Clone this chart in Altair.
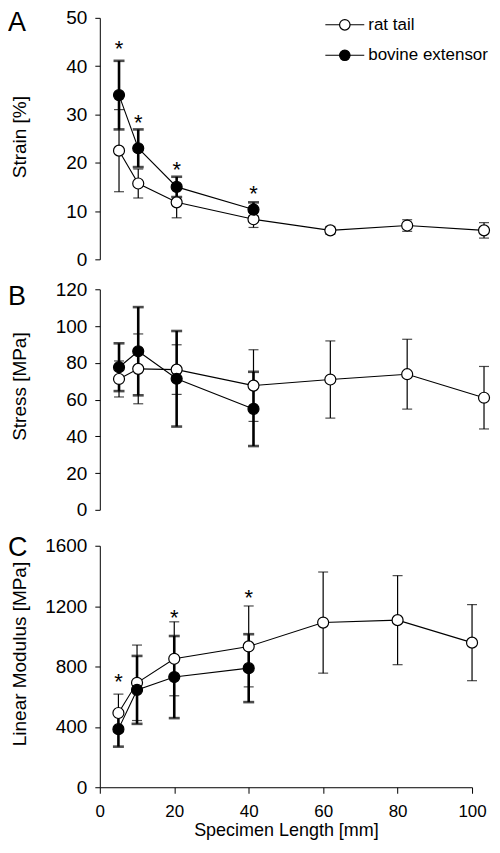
import altair as alt
import pandas as pd

FONT = "Liberation Sans"

# ---------------- data ----------------
rat_len = [5, 10, 20, 40, 60, 80, 100]
bov_len = [5, 10, 20, 40]
groups = ["rat tail", "bovine extensor"]

# A: strain [%]
rat_strain = [22.5, 15.7, 11.8, 8.3, 6.0, 7.0, 6.0]
rat_strain_sd = [8.5, 3.0, 3.2, 1.7, 0.8, 1.2, 1.6]
bov_strain = [34.0, 23.0, 15.0, 10.3]
bov_strain_sd = [7.1, 3.9, 2.1, 1.5]
strain_star_x = [5, 10, 20, 40]
strain_star_y = [44.7, 29.5, 19.8, 14.7]

# B: stress [MPa]
rat_stress = [71.2, 76.7, 76.3, 67.6, 70.9, 73.8, 61.0]
rat_stress_sd = [9.8, 19.0, 13.5, 19.5, 21.0, 19.0, 17.0]
bov_stress = [77.6, 86.3, 71.3, 54.9]
bov_stress_sd = [13.0, 24.0, 26.0, 20.2]

# C: linear modulus [MPa]
rat_mod = [492, 692, 851, 933, 1091, 1107, 958]
rat_mod_sd = [125, 250, 245, 268, 335, 295, 252]
bov_mod = [385, 645, 730, 789]
bov_mod_sd = [116, 225, 272, 225]
mod_star_x = [5, 20, 40]
mod_star_y = [740, 1163, 1296]

group_fill = {"rat tail": "white", "bovine extensor": "black"}


def make_table(rm, rs, bm, bs):
    recs = []
    for x, m, s in zip(rat_len, rm, rs):
        recs.append({"length": x, "group": groups[0], "mean": m, "lo": m - s, "hi": m + s})
    for x, m, s in zip(bov_len, bm, bs):
        recs.append({"length": x, "group": groups[1], "mean": m, "lo": m - s, "hi": m + s})
    return pd.DataFrame(recs)


def legend_layers(x0, row_y):
    """Hand-drawn legend (line - circle - label) placed inside panel A."""
    out = []
    for g, yy in zip(groups, row_y):
        d = alt.Chart(pd.DataFrame({"label": [g]}))
        out.append(d.mark_rule(color="black", strokeWidth=1.1)
                   .encode(x=alt.value(x0), x2=alt.value(x0 + 39), y=alt.value(yy)))
        out.append(d.mark_point(shape="circle", filled=True, size=110, stroke="black",
                                strokeWidth=1.2, opacity=1, fill=group_fill[g])
                   .encode(x=alt.value(x0 + 19.5), y=alt.value(yy)))
        out.append(d.mark_text(align="left", baseline="middle", fontSize=17, font=FONT,
                               color="black")
                   .encode(x=alt.value(x0 + 43), y=alt.value(yy), text="label:N"))
    return out


def panel(df, star_x, star_y, letter, lx, ly, ymax, yticks, ytitle, title_y,
          width, height, show_x, legend):
    xscale = alt.Scale(domain=[0, 100], nice=False, zero=False)
    if show_x:
        xaxis = alt.Axis(values=[0, 20, 40, 60, 80, 100], title="Specimen Length [mm]",
                         labelFontSize=17, tickSize=6, labelPadding=10,
                         titleFontSize=18, titlePadding=2, labelFlush=False,
                         format="d")
    else:
        xaxis = None
    yscale = alt.Scale(domain=[0, ymax], nice=False, zero=True)
    yaxis = alt.Axis(values=yticks, title=ytitle, titleX=-74, titleY=title_y,
                     titleAngle=270, titleBaseline="alphabetic", titleAlign="center",
                     labelFontSize=19, titleFontSize=19, tickSize=5, labelPadding=8,
                     format="d")
    X = alt.X("length:Q", scale=xscale, axis=xaxis)

    def Y(field):
        return alt.Y(field, type="quantitative", scale=yscale, axis=yaxis)

    base = alt.Chart(df)
    layers = []
    for g, sw, cap in [(groups[0], 1.2, 10), (groups[1], 2.6, 11)]:
        sub = base.transform_filter(alt.datum.group == g)
        layers.append(sub.mark_rule(color="black", strokeWidth=sw)
                      .encode(x=X, y=Y("lo"), y2=alt.Y2("hi")))
        layers.append(sub.transform_fold(["lo", "hi"], as_=["end", "val"])
                      .mark_tick(orient="horizontal", color="black", size=cap, thickness=sw)
                      .encode(x=X, y=Y("val")))
    layers.append(base.mark_line(color="black", strokeWidth=1.1)
                  .encode(x=X, y=Y("mean"), detail="group:N"))
    fill = alt.Fill("group:N", scale=alt.Scale(domain=groups, range=["white", "black"]),
                    legend=None)
    layers.append(base.mark_point(shape="circle", filled=True, size=121, stroke="black",
                                  strokeWidth=1.2, opacity=1)
                  .encode(x=X, y=Y("mean"), fill=fill))
    if star_x:
        sdf = pd.DataFrame({"length": star_x, "val": star_y})
        layers.append(alt.Chart(sdf).mark_text(text="*", fontSize=22, dy=6, font=FONT,
                                               color="black")
                      .encode(x=X, y=Y("val")))
    ldf = pd.DataFrame({"t": [letter]})
    layers.append(alt.Chart(ldf).mark_text(align="left", baseline="top", fontSize=27,
                                           font=FONT, color="black")
                  .encode(x=alt.value(lx), y=alt.value(ly), text="t:N"))
    if legend:
        layers.extend(legend_layers(226, [7, 37.5]))
    return alt.layer(*layers).properties(width=width, height=height)


pa = panel(make_table(rat_strain, rat_strain_sd, bov_strain, bov_strain_sd),
           strain_star_x, strain_star_y, "A", -92, -8, 50, [0, 10, 20, 30, 40, 50],
           "Strain [%]", 119, 385, 242, False, True)
pb = panel(make_table(rat_stress, rat_stress_sd, bov_stress, bov_stress_sd),
           [], [], "B", -92, -5, 120, [0, 20, 40, 60, 80, 100, 120],
           "Stress [MPa]", 97, 385, 221, False, False)
pc = panel(make_table(rat_mod, rat_mod_sd, bov_mod, bov_mod_sd),
           mod_star_x, mod_star_y, "C", -92, -11, 1600, [0, 400, 800, 1200, 1600],
           "Linear Modulus [MPa]", 108, 373, 242, True, False)

inner = alt.vconcat(pb, pc, spacing=36, bounds="flush").resolve_scale(
    x="independent", y="independent", fill="independent")
chart = alt.vconcat(pa, inner, spacing=30, bounds="flush").resolve_scale(
    x="independent", y="independent", fill="independent"
).properties(
    padding={"left": 0, "top": 0, "right": 0, "bottom": 0},
    background="white",
).configure_view(stroke=None).configure_axis(
    domainColor="black", tickColor="black", labelColor="black", titleColor="black",
    labelFont=FONT, titleFont=FONT, grid=False, domainWidth=1, tickWidth=1,
    titleFontWeight="normal"
)

chart.save("out.html", embed_options={"renderer": "svg", "actions": False})
